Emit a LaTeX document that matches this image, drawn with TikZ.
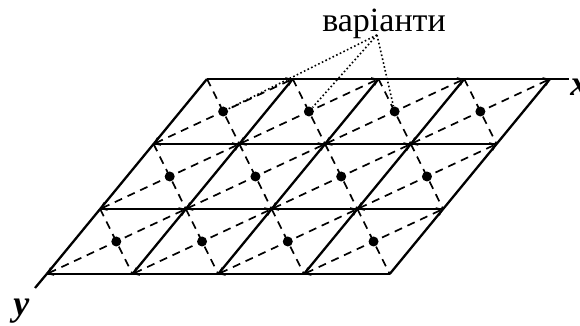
\documentclass[tikz,border=0pt]{standalone}
\usepackage{fontspec}
\setmainfont{Liberation Serif}
\usetikzlibrary{arrows.meta, calc}

\begin{document}
\begin{tikzpicture}[
    x=0.5pt, y=-0.5pt,
    grid/.style={line width=1.15pt},
    diag/.style={line width=0.85pt, dash pattern=on 4pt off 3pt},
    longdiag/.style={diag, {Straight Barb[length=2.5pt,width=4pt]}-{Straight Barb[length=2.5pt,width=4pt]}},
    dot/.style={circle, fill, inner sep=0pt, minimum size=5pt},
    leader/.style={line width=0.8pt, dash pattern=on 0.8pt off 1.2pt},
    axislabel/.style={font=\fontsize{18}{20}\selectfont\bfseries\itshape, inner sep=0pt}
]
\useasboundingbox (0,0) rectangle (580,326);

% grid points
\foreach \u in {0,...,4}
  \foreach \v in {0,...,3}
    \coordinate (p\u\v) at ({207+85.75*\u-53.43*\v},{79+65*\v});
\coordinate (xend) at (569,79);
\coordinate (yend) at (35,288);

% solid lines and axes
\foreach \v in {0,...,3}
  \draw[grid] (p0\v) -- (p4\v);
\foreach \u in {0,...,4}
  \draw[grid] (p\u0) -- (p\u3);
\draw[grid] (p40) -- (xend);
\draw[grid] (p03) -- (yend);

% cells: diagonals and centre points
\foreach \u in {0,...,3}
  \foreach \v in {0,...,2}{
    \pgfmathtruncatemacro{\uu}{\u+1}
    \pgfmathtruncatemacro{\vv}{\v+1}
    \draw[diag] (p\u\v) -- (p\uu\vv);
    \draw[longdiag] (p\u\vv) -- (p\uu\v);
    \node[dot] (d\u\v) at ($(p\u\v)!0.5!(p\uu\vv)$) {};
  }

% labels
\node[font=\fontsize{17}{19}\selectfont, anchor=base, inner sep=0pt] (var) at (384,31.5) {варіанти};
\coordinate (hub) at (377,35);
\draw[leader] (hub) -- (d00);
\draw[leader] (hub) -- (d10);
\draw[leader] (hub) -- (d20);

\node[axislabel, anchor=base west] (xlab) at (570,96) {x};
\node[axislabel, anchor=base west] (ylab) at (13,316) {y};
\end{tikzpicture}
\end{document}
